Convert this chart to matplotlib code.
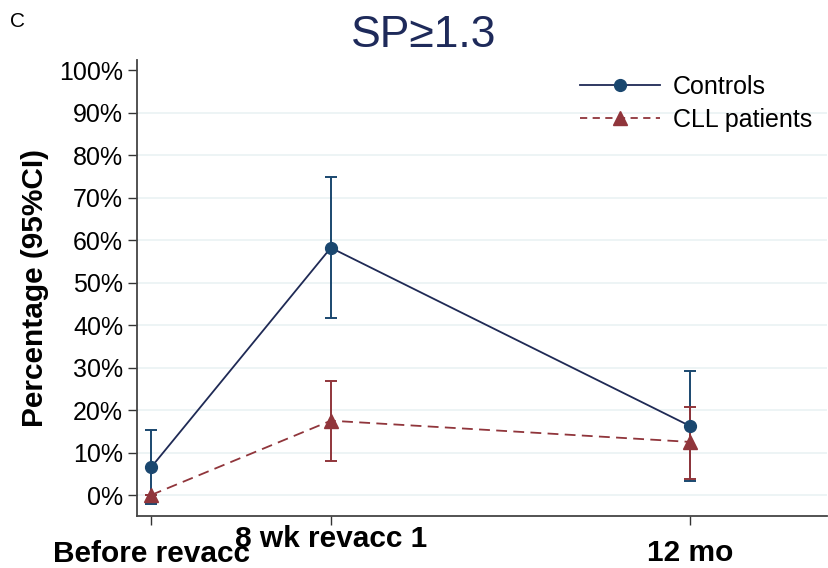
import matplotlib
matplotlib.use("Agg")
import matplotlib.pyplot as plt
from matplotlib.lines import Line2D

plt.rcParams['font.family'] = ['Liberation Sans', 'DejaVu Sans']

# Data
timepoints = [0, 2, 6]
tick_labels = ["Before revacc", "8 wk revacc 1", "12 mo"]
controls = [6.5, 58.2, 16.2]
controls_lo = [-2.1, 41.6, 3.3]
controls_hi = [15.3, 74.9, 29.2]
cll = [0.0, 17.5, 12.5]
cll_lo = [0.0, 8.1, 3.8]
cll_hi = [0.0, 26.8, 20.8]
yticks = list(range(0, 101, 10))

navy_line = "#1f2a55"
navy = "#1a476f"
maroon = "#90353b"
grid_col = "#eaf2f3"

fig = plt.figure(figsize=(8.29, 5.68), dpi=100)
ax = fig.add_axes([0.1653, 0.0915, 0.8323, 0.8029])

for y in yticks[:-1]:
    ax.axhline(y, color=grid_col, lw=1.2, zorder=0)

# error bars
ax.errorbar(timepoints, controls,
            yerr=[[c - l for c, l in zip(controls, controls_lo)],
                  [h - c for c, h in zip(controls, controls_hi)]],
            fmt='none', ecolor=navy, elinewidth=1.4, capsize=4.5, capthick=1.4, zorder=2)
ax.errorbar(timepoints, cll,
            yerr=[[c - l for c, l in zip(cll, cll_lo)],
                  [h - c for c, h in zip(cll, cll_hi)]],
            fmt='none', ecolor=maroon, elinewidth=1.4, capsize=4.5, capthick=1.4, zorder=2)

ax.plot(timepoints, controls, '-', color=navy_line, lw=1.3, zorder=3)
ax.plot(timepoints, controls, 'o', color=navy, ms=8.5, zorder=4)
ax.plot(timepoints, cll, '--', color=maroon, lw=1.3, dashes=(6, 3.5), zorder=3)
ax.plot(timepoints, cll, '^', color=maroon, ms=9.5, zorder=4)

# legend proxies
h1 = Line2D([], [], color=navy_line, lw=1.3, marker='o', ms=8.5, mfc=navy, mec=navy)
h2 = Line2D([], [], color=maroon, lw=1.3, ls='--', dashes=(4, 3), marker='^', ms=9.5, mfc=maroon, mec=maroon)
ax.legend([h1, h2], ["Controls", "CLL patients"], loc='upper right', frameon=False,
          fontsize=18, handlelength=3.2, handletextpad=0.5, labelspacing=0.35,
          bbox_to_anchor=(1.0, 1.0), borderaxespad=0.2)

ax.set_ylim(-4.94, 102.4)
ax.set_xlim(-0.156, 7.52)
ax.set_yticks(yticks)
ax.set_yticklabels([f"{v}%" for v in yticks], fontsize=18)
ax.set_xticks(timepoints)
ax.set_xticklabels(tick_labels, fontsize=21.5, fontweight='bold')
ax.tick_params(axis='both', direction='out', length=6.5, width=1.0, color='#333333')
ax.tick_params(axis='y', pad=3.5)
pads = [10.5, 0, 10]
for t, p in zip(ax.xaxis.get_major_ticks(), pads):
    t.set_pad(p)

for s in ['top', 'right']:
    ax.spines[s].set_visible(False)
for s in ['left', 'bottom']:
    ax.spines[s].set_color('#444444')
    ax.spines[s].set_linewidth(1.3)

ax.set_ylabel("Percentage (95%CI)", fontsize=21.5, fontweight='bold')
ax.yaxis.set_label_coords(-0.127, 0.5)

fig.text(0.5105, 0.938, "SP≥1.3", fontsize=32, color="#1e2a5a", ha='center', va='center')
fig.text(0.012, 0.962, "C", fontsize=15, ha='left', va='center')

fig.savefig("out.png", dpi=100)
